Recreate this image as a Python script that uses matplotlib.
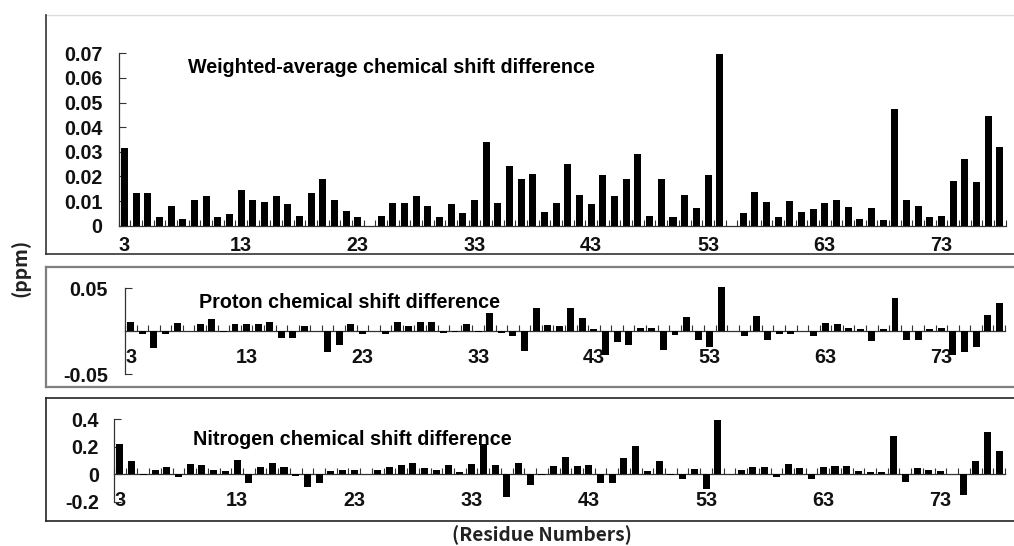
import numpy as np
import matplotlib
matplotlib.use("Agg")
import matplotlib.pyplot as plt
from matplotlib.lines import Line2D

residues = list(range(3, 79))
tick_residues = [3, 13, 23, 33, 43, 53, 63, 73]

weighted = [0.0317, 0.0134, 0.0134, 0.0034, 0.0081, 0.0026, 0.0103, 0.0120, 0.0034, 0.0047,
            0.0146, 0.0103, 0.0096, 0.0120, 0.0087, 0.0039, 0.0134, 0.0188, 0.0103, 0.0061,
            0.0034, 0.0, 0.0039, 0.0091, 0.0091, 0.0120, 0.0081, 0.0034, 0.0087, 0.0053,
            0.0103, 0.0341, 0.0091, 0.0244, 0.0188, 0.0210, 0.0057, 0.0091, 0.0249, 0.0125,
            0.0087, 0.0206, 0.0120, 0.0188, 0.0291, 0.0039, 0.0188, 0.0034, 0.0125, 0.0073,
            0.0206, 0.0697, 0.0, 0.0053, 0.0138, 0.0095, 0.0034, 0.0099, 0.0057, 0.0069,
            0.0091, 0.0103, 0.0077, 0.0026, 0.0073, 0.0022, 0.0475, 0.0103, 0.0081, 0.0034,
            0.0039, 0.0180, 0.0269, 0.0176, 0.0444, 0.0321]

proton = [0.011, -0.003, -0.019, -0.003, 0.010, 0.0, 0.0087, 0.0138, -0.001, 0.008,
          0.0087, 0.008, 0.011, -0.008, -0.008, 0.0067, 0.0, -0.024, -0.0157, 0.0087,
          -0.003, 0.0, -0.003, 0.011, 0.006, 0.011, 0.011, -0.002, -0.001, 0.0087,
          -0.0005, 0.021, -0.002, -0.006, -0.023, 0.027, 0.0079, 0.0063, 0.0276, 0.015,
          0.0024, -0.0276, -0.0126, -0.0165, 0.004, 0.004, -0.0213, -0.0047, 0.0161, -0.0098,
          -0.0177, 0.052, 0.0, -0.006, 0.0177, -0.0098, -0.0035, -0.0035, 0.0, -0.005,
          0.010, 0.009, 0.004, 0.003, -0.0114, 0.003, 0.0386, -0.0098, -0.0098, 0.003,
          0.004, -0.0276, -0.0236, -0.0185, 0.019, 0.0327]

nitrogen = [0.224, 0.099, -0.007, 0.033, 0.052, -0.017, 0.073, 0.068, 0.033, 0.024,
            0.106, -0.064, 0.052, 0.082, 0.052, -0.012, -0.094, -0.064, 0.024, 0.033,
            0.033, 0.0, 0.028, 0.052, 0.068, 0.082, 0.045, 0.033, 0.068, 0.019,
            0.073, 0.224, 0.068, -0.165, 0.082, -0.078, -0.007, 0.059, 0.125, 0.059,
            0.068, -0.064, -0.064, 0.118, 0.207, 0.024, 0.096, -0.007, -0.031, 0.035,
            -0.106, 0.393, 0.0, 0.028, 0.052, 0.052, -0.016, 0.073, 0.045, -0.035,
            0.052, 0.064, 0.059, 0.024, 0.016, 0.016, 0.282, -0.054, 0.045, 0.033,
            0.024, 0.0, -0.153, 0.096, 0.306, 0.172]

titles = ["Weighted-average chemical shift difference",
          "Proton chemical shift difference",
          "Nitrogen chemical shift difference"]
ylabel = "(ppm)"
xlabel = "(Residue Numbers)"

W, H = 1014, 546
fig = plt.figure(figsize=(W / 100, H / 100), dpi=100)
plt.rcParams['font.family'] = ['Liberation Sans', 'DejaVu Sans']

def fx(x):
    return x / W

def fy(y):
    return 1 - y / H

def ax_rect(left, right, top, bottom):
    return [fx(left), fy(bottom), (right - left) / W, (bottom - top) / H]

def hline(x0, x1, y, color, lw):
    fig.add_artist(Line2D([fx(x0), fx(x1)], [fy(y), fy(y)], color=color, lw=lw,
                          transform=fig.transFigure))

def vline(x, y0, y1, color, lw):
    fig.add_artist(Line2D([fx(x), fx(x)], [fy(y0), fy(y1)], color=color, lw=lw,
                          transform=fig.transFigure))

# panel frames
hline(46, 1020, 15, '#dcdcdc', 1.0)
vline(46, 15, 253.5, '#333333', 1.2)
hline(46, 1020, 253.5, '#333333', 1.2)

hline(46, 1020, 266.7, '#7f7f7f', 1.6)
vline(46, 266.7, 386.7, '#7f7f7f', 1.6)
hline(46, 1020, 386.7, '#7f7f7f', 1.6)

hline(46, 1020, 398.3, '#222222', 1.2)
vline(46, 398.3, 521, '#222222', 1.2)
hline(46, 1020, 521, '#222222', 1.2)

specs = [
    dict(data=weighted, rect=ax_rect(118.5, 1005.7, 53.3, 225.7), ylim=(0, 0.07),
         yticks=[0, 0.01, 0.02, 0.03, 0.04, 0.05, 0.06, 0.07],
         ylabels=['0', '0.01', '0.02', '0.03', '0.04', '0.05', '0.06', '0.07'],
         xpad=7.5, ypad=11.5),
    dict(data=proton, rect=ax_rect(125, 1005, 288.3, 374.3), ylim=(-0.05, 0.05),
         yticks=[-0.05, 0.05], ylabels=['-0.05', '0.05'], xpad=12.0, ypad=12.5),
    dict(data=nitrogen, rect=ax_rect(114, 1005, 419.3, 501.8), ylim=(-0.2, 0.4),
         yticks=[-0.2, 0, 0.2, 0.4], ylabels=['-0.2', '0', '0.2', '0.4'],
         xpad=12.0, ypad=11.0),
]

x = np.array(residues)
for s in specs:
    ax = fig.add_axes(s['rect'])
    ax.patch.set_alpha(0)
    ax.bar(x, s['data'], width=0.6, color='black', clip_on=False, zorder=3)
    ax.set_xlim(2.5, 78.5)
    ax.set_ylim(*s['ylim'])
    for sp in ['top', 'right']:
        ax.spines[sp].set_visible(False)
    ax.spines['bottom'].set_position(('data', 0))
    ax.spines['bottom'].set_color('#333333')
    ax.spines['left'].set_color('#333333')
    ax.spines['bottom'].set_linewidth(0.9)
    ax.spines['left'].set_linewidth(0.9)
    ax.set_xticks(np.arange(2.5, 79, 1.0), minor=True)
    ax.set_xticks(tick_residues)
    ax.set_xticklabels([str(t) for t in tick_residues])
    ax.tick_params(axis='x', which='minor', direction='in', length=4, width=0.8, color='#333333')
    ax.tick_params(axis='x', which='major', length=0, pad=s['xpad'])
    ax.set_yticks(s['yticks'])
    ax.set_yticklabels(s['ylabels'])
    ax.tick_params(axis='y', direction='in', length=5, width=0.8, color='#333333', pad=s['ypad'])
    for lab in ax.get_xticklabels() + ax.get_yticklabels():
        lab.set_fontsize(14.2)
        lab.set_fontweight('bold')
        lab.set_color('#111111')

fig.text(fx(188), fy(72.7), titles[0], fontsize=14.2, fontweight='bold', va='baseline', ha='left')
fig.text(fx(199), fy(308.3), titles[1], fontsize=14.2, fontweight='bold', va='baseline', ha='left')
fig.text(fx(193), fy(445), titles[2], fontsize=14.2, fontweight='bold', va='baseline', ha='left')

fig.text(fx(20), fy(268), ylabel, rotation=90, fontsize=14, fontweight='bold',
         family=['Noto Sans CJK KR', 'DejaVu Sans'], ha='center', va='center', color='#222222')
fig.text(fx(542), fy(535), xlabel, fontsize=13.8, fontweight='bold',
         family=['Noto Sans CJK KR', 'DejaVu Sans'], ha='center', va='center', color='#222222')

fig.savefig('out.png', dpi=100)
